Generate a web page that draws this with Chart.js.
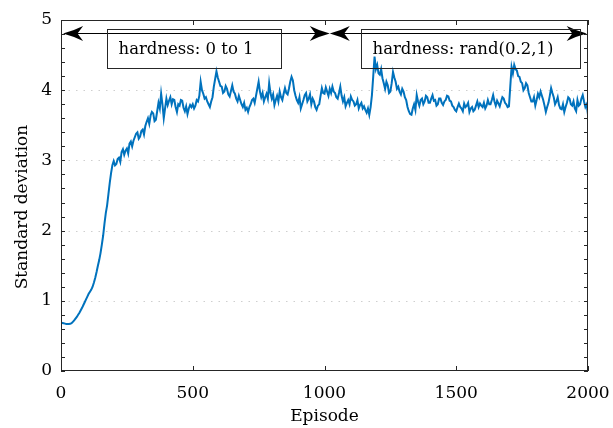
<!DOCTYPE html>
<html lang="en">
  <head>
    <meta charset="UTF-8" />
    <title>Standard deviation per episode</title>
    <script src="https://cdn.jsdelivr.net/npm/chart.js"></script>
    <style>
      body {
        margin: 0;
        background: #fff;
      }
      .chart-box {
        width: 613px;
        height: 428px;
      }
    </style>
  </head>
  <body>
    <div class="chart-box"><canvas id="stdChart"></canvas></div>

    <script>
      // sampled every 5 episodes, 0..2000
      const episodeStep = 5;
      const stdValues = [
        0.69, 0.685, 0.68, 0.675, 0.67, 0.67, 0.67, 0.672, 0.68, 0.7,
        0.72, 0.745, 0.77, 0.8, 0.83, 0.865, 0.9, 0.94, 0.98, 1.02,
        1.06, 1.1, 1.13, 1.16, 1.2, 1.26, 1.33, 1.41, 1.5, 1.58,
        1.68, 1.8, 1.93, 2.1, 2.25, 2.36, 2.52, 2.68, 2.82, 2.93,
        2.99, 2.93, 2.95, 3.02, 3.04, 2.98, 3.12, 3.16, 3.08, 3.14,
        3.17, 3.1, 3.24, 3.27, 3.2, 3.28, 3.33, 3.38, 3.4, 3.31,
        3.34, 3.42, 3.44, 3.37, 3.49, 3.55, 3.6, 3.52, 3.64, 3.69,
        3.67, 3.56, 3.58, 3.7, 3.82, 3.74, 3.95, 3.8, 3.6, 3.74,
        3.88, 3.79, 3.85, 3.9, 3.8, 3.87, 3.86, 3.76, 3.69, 3.8,
        3.78, 3.86, 3.85, 3.75, 3.7, 3.77, 3.66, 3.74, 3.79, 3.76,
        3.8, 3.74, 3.78, 3.86, 3.84, 3.92, 4.12, 4.0, 3.95, 3.88,
        3.9, 3.84, 3.8, 3.76, 3.84, 3.9, 4.05, 4.16, 4.27, 4.18,
        4.12, 4.06, 4.05, 3.96, 3.98, 4.06, 4.02, 3.94, 3.91, 3.99,
        4.07, 3.98, 3.95, 3.88, 3.84, 3.92, 3.86, 3.8, 3.76, 3.82,
        3.72, 3.75, 3.69, 3.76, 3.8, 3.86, 3.88, 3.82, 3.92, 4.02,
        4.12, 3.98, 3.9, 3.96, 3.84, 3.9, 3.95, 3.88, 4.1, 3.96,
        3.88, 3.94, 3.79, 3.86, 3.92, 3.84, 3.98, 3.9, 3.86, 3.95,
        4.03, 3.96, 3.94, 4.02, 4.12, 4.19, 4.14, 4.0, 3.92, 3.86,
        3.82, 3.9, 3.74, 3.8, 3.86, 3.93, 3.96, 3.84, 3.88, 3.94,
        3.8, 3.88, 3.84, 3.76, 3.72, 3.78, 3.8, 3.92, 4.03, 3.96,
        3.95, 4.04, 3.98, 3.92, 4.02, 3.96, 4.05, 3.98, 3.96, 3.9,
        3.88, 3.96, 4.05, 3.92, 3.84, 3.9, 3.77, 3.82, 3.86, 3.8,
        3.91, 3.86, 3.84, 3.78, 3.8, 3.86, 3.74, 3.79, 3.82, 3.74,
        3.77, 3.72, 3.68, 3.74, 3.65, 3.76, 3.93, 4.2, 4.48, 4.3,
        4.36, 4.24, 4.22, 4.3, 4.17, 4.1, 4.02, 4.12, 4.07, 3.96,
        3.98, 4.1, 4.26, 4.18, 4.12, 4.02, 4.05, 3.98, 3.94, 4.02,
        3.98, 3.9, 3.86, 3.76, 3.7, 3.66, 3.65, 3.74, 3.8, 3.72,
        3.93, 3.84, 3.78, 3.86, 3.88, 3.8, 3.84, 3.92, 3.9, 3.82,
        3.82, 3.88, 3.93, 3.85, 3.86, 3.78, 3.8, 3.88, 3.88, 3.82,
        3.79, 3.84, 3.86, 3.92, 3.91, 3.85, 3.84, 3.78, 3.76, 3.72,
        3.7, 3.76, 3.81, 3.76, 3.74, 3.7, 3.81, 3.76, 3.78, 3.82,
        3.69, 3.74, 3.76, 3.7, 3.72, 3.78, 3.84, 3.76, 3.81, 3.78,
        3.76, 3.82, 3.74, 3.78, 3.86, 3.8, 3.8, 3.86, 3.93, 3.84,
        3.78, 3.85, 3.81, 3.77, 3.84, 3.9, 3.88, 3.82, 3.8, 3.76,
        3.77, 4.05, 4.33, 4.24, 4.36, 4.3, 4.28, 4.2, 4.19, 4.12,
        4.1, 4.0, 4.03, 4.1, 4.07, 3.96, 3.9, 3.84, 3.84, 3.9,
        3.78, 3.86, 3.95, 3.9, 3.98, 3.92, 3.86, 3.78, 3.69, 3.76,
        3.82, 3.92, 4.03, 3.96, 3.9, 3.8, 3.84, 3.9, 3.79, 3.74,
        3.73, 3.8, 3.69, 3.76, 3.82, 3.9, 3.88, 3.8, 3.78, 3.84,
        3.74, 3.7, 3.86, 3.78, 3.8, 3.88, 3.93, 3.84, 3.76, 3.8,
        3.65,
      ];

      const xTicks = [0, 500, 1000, 1500, 2000];
      const yTicks = [0, 1, 2, 3, 4, 5];
      const gridLevels = [1, 2, 3, 4];

      // phase annotations: [from, to] in episodes, label box [x0, x1, yTop, yBottom]
      const arrowLevel = 4.815;
      const phaseArrows = [
        [8, 1020],
        [1020, 1995],
      ];
      const phaseLabels = [
        { text: "hardness: 0 to 1", box: [175, 835, 4.872, 4.316] },
        { text: "hardness: rand(0.2,1)", box: [1139, 1970, 4.872, 4.316] },
      ];

      const points = stdValues.map((v, i) => ({ x: i * episodeStep, y: v }));

      const serif = "'DejaVu Serif', 'Liberation Serif', serif";
      Chart.defaults.font.family = serif;
      Chart.defaults.color = "#000";

      function arrowHead(ctx, tipX, y, dir) {
        const L = 20, W = 15;
        ctx.beginPath();
        ctx.moveTo(tipX, y);
        ctx.quadraticCurveTo(tipX + dir * L * 0.55, y - W * 0.2, tipX + dir * L, y - W / 2);
        ctx.lineTo(tipX + dir * L * 0.72, y);
        ctx.lineTo(tipX + dir * L, y + W / 2);
        ctx.quadraticCurveTo(tipX + dir * L * 0.55, y + W * 0.2, tipX, y);
        ctx.closePath();
        ctx.fill();
      }

      const framePlugin = {
        id: "frame",
        beforeDatasetsDraw(chart) {
          const { ctx, chartArea: a, scales } = chart;
          ctx.save();
          ctx.strokeStyle = "#cfcfcf";
          ctx.lineWidth = 1;
          ctx.setLineDash([1.5, 6]);
          gridLevels.forEach((v) => {
            const py = Math.round(scales.y.getPixelForValue(v)) + 0.5;
            ctx.beginPath();
            ctx.moveTo(a.left, py);
            ctx.lineTo(a.right, py);
            ctx.stroke();
          });
          ctx.restore();
        },
        afterDatasetsDraw(chart) {
          const { ctx, chartArea: a, scales } = chart;
          const x = scales.x, y = scales.y;
          ctx.save();
          ctx.strokeStyle = "#262626";
          ctx.lineWidth = 1;
          ctx.strokeRect(a.left + 0.5, a.top + 0.5, a.right - a.left - 1, a.bottom - a.top - 1);

          // inward ticks
          ctx.beginPath();
          for (let k = 0; k <= 25; k++) {
            const py = Math.round(y.getPixelForValue(k * 0.2)) + 0.5;
            ctx.moveTo(a.left, py);
            ctx.lineTo(a.left + 4, py);
            ctx.moveTo(a.right, py);
            ctx.lineTo(a.right - 4, py);
          }
          xTicks.forEach((v) => {
            const px = Math.round(x.getPixelForValue(v)) + 0.5;
            ctx.moveTo(px, a.bottom);
            ctx.lineTo(px, a.bottom - 5);
            ctx.moveTo(px, a.top);
            ctx.lineTo(px, a.top + 5);
          });
          ctx.stroke();

          // phase arrows
          const ay = Math.round(y.getPixelForValue(arrowLevel)) + 0.5;
          ctx.fillStyle = "#000";
          ctx.strokeStyle = "#000";
          phaseArrows.forEach(([from, to]) => {
            const x0 = x.getPixelForValue(from), x1 = x.getPixelForValue(to);
            ctx.beginPath();
            ctx.moveTo(x0 + 5, ay);
            ctx.lineTo(x1 - 5, ay);
            ctx.stroke();
            arrowHead(ctx, x0, ay, 1);
            arrowHead(ctx, x1, ay, -1);
          });

          // label boxes
          ctx.font = "16.5px " + serif;
          ctx.textBaseline = "alphabetic";
          ctx.textAlign = "left";
          phaseLabels.forEach(({ text, box }) => {
            const bx0 = Math.round(x.getPixelForValue(box[0])) + 0.5;
            const bx1 = Math.round(x.getPixelForValue(box[1])) + 0.5;
            const by0 = Math.round(y.getPixelForValue(box[2])) + 0.5;
            const by1 = Math.round(y.getPixelForValue(box[3])) + 0.5;
            ctx.strokeStyle = "#262626";
            ctx.strokeRect(bx0, by0, bx1 - bx0, by1 - by0);
            ctx.fillText(text, bx0 + 11, by0 + 24);
          });

          // axis titles
          ctx.font = "17px " + serif;
          ctx.textAlign = "center";
          ctx.fillText("Episode", (a.left + a.right) / 2, 421);
          ctx.translate(27, 207);
          ctx.rotate(-Math.PI / 2);
          ctx.fillText("Standard deviation", 0, 0);
          ctx.restore();
        },
      };

      new Chart(document.getElementById("stdChart"), {
        type: "line",
        data: {
          datasets: [
            {
              data: points,
              borderColor: "#0072BD",
              borderWidth: 2,
              pointRadius: 0,
              tension: 0,
              fill: false,
            },
          ],
        },
        options: {
          responsive: true,
          maintainAspectRatio: false,
          animation: false,
          layout: { padding: { top: 20, right: 25, left: 0, bottom: 0 } },
          plugins: { legend: { display: false }, tooltip: { enabled: false } },
          scales: {
            x: {
              type: "linear",
              min: 0,
              max: 2000,
              afterBuildTicks: (s) => {
                s.ticks = xTicks.map((v) => ({ value: v }));
              },
              afterFit: (s) => {
                s.height = 57;
                s.paddingLeft = 0;
                s.paddingRight = 0;
              },
              grid: { display: false, drawTicks: false },
              border: { display: false },
              ticks: {
                font: { size: 17 },
                padding: 12,
                maxRotation: 0,
                callback: (v) => String(v),
              },
            },
            y: {
              min: 0,
              max: 5,
              afterBuildTicks: (s) => {
                s.ticks = yTicks.map((v) => ({ value: v }));
              },
              afterFit: (s) => {
                s.width = 61;
                s.paddingTop = 0;
                s.paddingBottom = 0;
              },
              grid: { display: false, drawTicks: false },
              border: { display: false },
              ticks: { font: { size: 17 }, padding: 9 },
            },
          },
        },
        plugins: [framePlugin],
      });
    </script>
  </body>
</html>
